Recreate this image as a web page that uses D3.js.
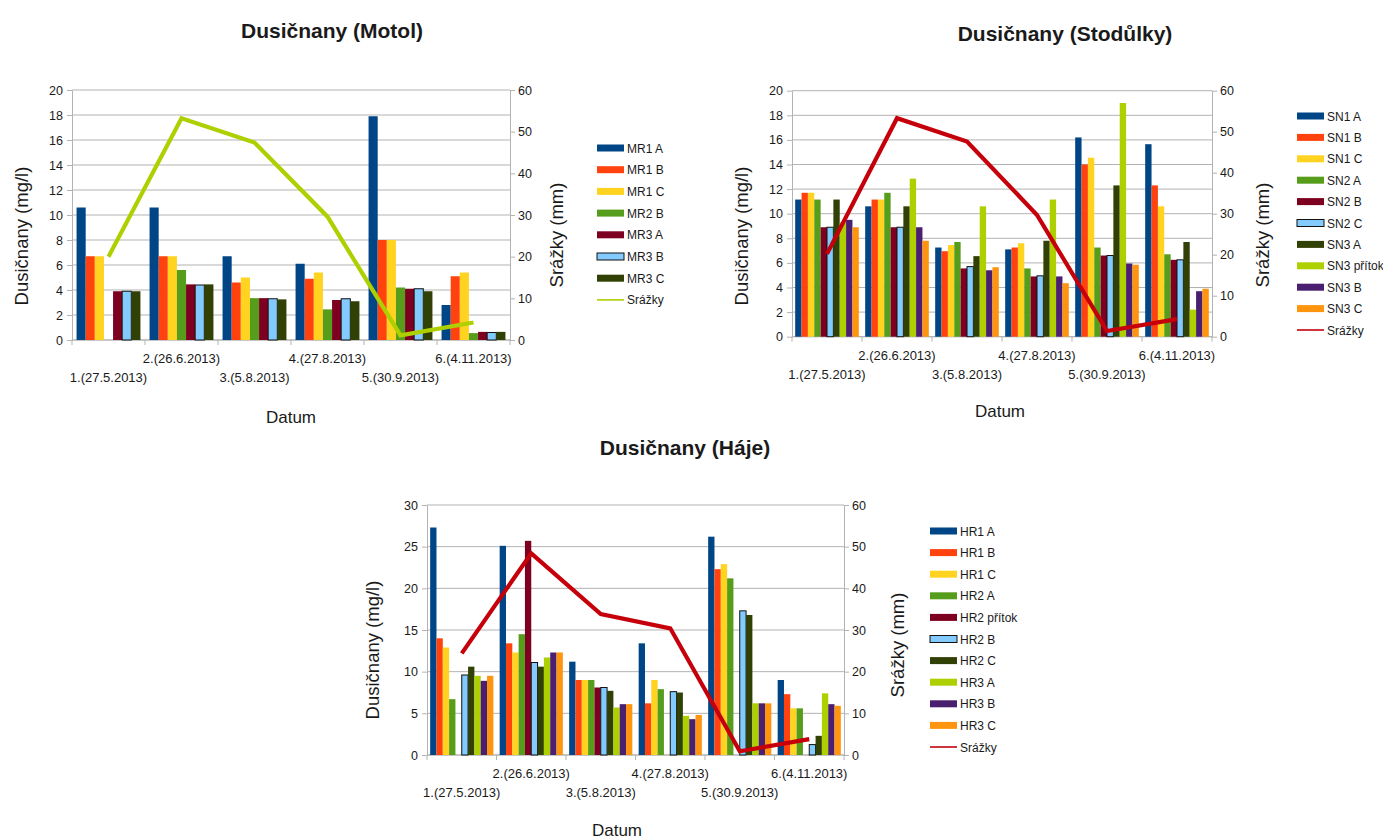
<!DOCTYPE html>
<html>
<head>
<meta charset="utf-8">
<script src="https://cdn.jsdelivr.net/npm/d3@7"></script>
<style>
  body { margin: 0; background: #fff; }
  text { font-family: "Liberation Sans", Arial, sans-serif; fill: #1a1a1a; }
</style>
</head>
<body>
<svg id="chart" width="1383" height="839"></svg>
<script>
// Sampling dates (x categories)
const categories = ["1.(27.5.2013)", "2.(26.6.2013)", "3.(5.8.2013)", "4.(27.8.2013)", "5.(30.9.2013)", "6.(4.11.2013)"];

// Nitrate concentrations (mg/l), Motol
const motolNames = ["MR1 A", "MR1 B", "MR1 C", "MR2 B", "MR3 A", "MR3 B", "MR3 C"];
const motolValues = [
  [10.6, 10.6, 6.7, 6.1, 17.9, 2.8],
  [6.7, 6.7, 4.6, 4.9, 8.0, 5.1],
  [6.7, 6.7, 5.0, 5.4, 8.0, 5.4],
  [null, 5.6, 3.35, 2.45, 4.2, 0.55],
  [3.9, 4.45, 3.35, 3.2, 4.1, 0.65],
  [3.9, 4.4, 3.3, 3.3, 4.1, 0.6],
  [3.9, 4.45, 3.25, 3.1, 3.9, 0.65]
];
const motolRain = [20.0, 53.2, 47.4, 29.6, 1.1, 4.2];

// Nitrate concentrations (mg/l), Stodůlky
const stodulkyNames = ["SN1 A", "SN1 B", "SN1 C", "SN2 A", "SN2 B", "SN2 C", "SN3 A", "SN3 přítok", "SN3 B", "SN3 C"];
const stodulkyValues = [
  [11.15, 10.6, 7.25, 7.1, 16.2, 15.65],
  [11.7, 11.15, 6.95, 7.25, 14.0, 12.3],
  [11.7, 11.15, 7.45, 7.6, 14.55, 10.6],
  [11.15, 11.7, 7.7, 5.55, 7.25, 6.7],
  [8.9, 8.9, 5.55, 4.9, 6.6, 6.25],
  [8.9, 8.9, 5.7, 4.95, 6.6, 6.25],
  [11.15, 10.6, 6.55, 7.8, 12.3, 7.7],
  [9.3, 12.85, 10.6, 11.15, 19.0, 2.2],
  [9.5, 8.9, 5.4, 4.9, 5.95, 3.7],
  [8.9, 7.8, 5.65, 4.35, 5.85, 3.9]
];
const stodulkyRain = [20.2, 53.3, 47.6, 29.7, 1.4, 4.3];

// Nitrate concentrations (mg/l), Háje
const hajeNames = ["HR1 A", "HR1 B", "HR1 C", "HR2 A", "HR2 přítok", "HR2 B", "HR2 C", "HR3 A", "HR3 B", "HR3 C"];
const hajeValues = [
  [27.3, 25.1, 11.2, 13.4, 26.2, 9.0],
  [14.0, 13.4, 9.0, 6.2, 22.3, 7.3],
  [12.9, 12.3, 9.0, 9.0, 22.9, 5.6],
  [6.7, 14.5, 9.0, 7.9, 21.2, 5.6],
  [null, 25.7, 8.1, null, null, null],
  [9.6, 11.1, 8.1, 7.6, 17.3, 1.25],
  [10.6, 10.6, 7.7, 7.5, 16.8, 2.3],
  [9.5, 11.7, 5.7, 4.7, 6.2, 7.4],
  [8.9, 12.3, 6.1, 4.3, 6.2, 6.1],
  [9.5, 12.3, 6.1, 4.8, 6.2, 5.9]
];
const hajeRain = [24.4, 48.4, 33.8, 30.4, 0.9, 3.8];

// Axis ticks
const ticksNitrate20 = [0, 2, 4, 6, 8, 10, 12, 14, 16, 18, 20];
const ticksNitrate30 = [0, 5, 10, 15, 20, 25, 30];
const ticksRain = [0, 10, 20, 30, 40, 50, 60];

// Bar fills per series slot
const palette7 = ["#004586", "#ff420e", "#ffd320", "#579d1c", "#7e0021", "#83caff", "#314004"];
const palette10 = ["#004586", "#ff420e", "#ffd320", "#579d1c", "#7e0021", "#83caff", "#314004", "#aecf00", "#4b1f6f", "#ff950e"];

const svg = d3.select("#chart");
const gridColor = "#b3b3b3";

function drawPanel(cfg) {
  const g = svg.append("g");
  const x0 = d3.scaleBand().domain(d3.range(categories.length)).range([cfg.left, cfg.right]);
  const x1 = d3.scaleBand().domain(d3.range(cfg.names.length))
    .range([0, x0.bandwidth()]).paddingInner(0).paddingOuter(0.5);
  const y = d3.scaleLinear().domain([0, cfg.yMax]).range([cfg.bottom, cfg.top]);
  const yR = d3.scaleLinear().domain([0, 60]).range([cfg.bottom, cfg.top]);

  // horizontal gridlines
  g.append("g").selectAll("line").data(cfg.yTicks).join("line")
    .attr("x1", cfg.left).attr("x2", cfg.right)
    .attr("y1", d => y(d)).attr("y2", d => y(d))
    .attr("stroke", gridColor).attr("stroke-width", 1);

  // left axis
  const axL = g.append("g").attr("transform", `translate(${cfg.left},0)`)
    .call(d3.axisLeft(y).tickValues(cfg.yTicks).tickSize(5).tickSizeOuter(0).tickPadding(4));
  // right axis
  const axR = g.append("g").attr("transform", `translate(${cfg.right},0)`)
    .call(d3.axisRight(yR).tickValues(ticksRain).tickSize(5).tickSizeOuter(0).tickPadding(3));
  [axL, axR].forEach(a => {
    a.selectAll("path, line").attr("stroke", gridColor);
    a.selectAll("text").style("font-size", "12.5px").attr("fill", "#222")
      .style("font-family", '"Liberation Sans", Arial, sans-serif');
  });

  // category axis
  g.append("line").attr("x1", cfg.left).attr("x2", cfg.right)
    .attr("y1", cfg.bottom).attr("y2", cfg.bottom).attr("stroke", gridColor);
  g.append("g").selectAll("line").data(d3.range(categories.length + 1)).join("line")
    .attr("x1", i => i < categories.length ? x0(i) : cfg.right)
    .attr("x2", i => i < categories.length ? x0(i) : cfg.right)
    .attr("y1", cfg.bottom).attr("y2", cfg.bottom + 5).attr("stroke", gridColor);
  g.append("g").selectAll("text").data(categories).join("text")
    .attr("x", (d, i) => x0(i) + x0.bandwidth() / 2)
    .attr("y", (d, i) => cfg.bottom + (i % 2 === 1 ? cfg.labelDy1 : cfg.labelDy2))
    .attr("text-anchor", "middle").style("font-size", "13px").text(d => d);

  // bars
  cfg.values.forEach((vals, s) => {
    g.append("g").selectAll("rect").data(vals.map((v, i) => ({ v, i })).filter(d => d.v != null)).join("rect")
      .attr("x", d => x0(d.i) + x1(s))
      .attr("y", d => y(d.v))
      .attr("width", x1.bandwidth())
      .attr("height", d => cfg.bottom - y(d.v))
      .attr("fill", cfg.palette[s])
      .attr("stroke", cfg.palette[s] === "#83caff" ? "#111" : "none")
      .attr("stroke-width", 1);
  });

  // rainfall line
  const line = d3.line().x((d, i) => x0(i) + x0.bandwidth() / 2).y(d => yR(d));
  g.append("path").datum(cfg.rain).attr("d", line)
    .attr("fill", "none").attr("stroke", cfg.lineColor).attr("stroke-width", 4.2)
    .attr("stroke-linejoin", "miter");

  // titles
  g.append("text").attr("x", cfg.titleX).attr("y", cfg.titleY).attr("text-anchor", "middle")
    .style("font-size", "21px").style("font-weight", "bold").text(cfg.title);
  g.append("text").attr("x", cfg.xTitleX).attr("y", cfg.xTitleY).attr("text-anchor", "middle")
    .style("font-size", "17px").text("Datum");
  g.append("text").attr("transform", `translate(${cfg.yTitleX},${cfg.yTitleY}) rotate(-90)`)
    .attr("text-anchor", "middle").attr("dominant-baseline", "central")
    .style("font-size", "18.5px").text("Dusičnany (mg/l)");
  g.append("text").attr("transform", `translate(${cfg.rTitleX},${cfg.rTitleY}) rotate(-90)`)
    .attr("text-anchor", "middle").attr("dominant-baseline", "central")
    .style("font-size", "18.5px").text("Srážky (mm)");

  // legend
  const items = cfg.names.map((n, i) => ({ n, c: cfg.palette[i], type: "bar" }))
    .concat([{ n: "Srážky", c: cfg.lineColor, type: "line" }]);
  const lg = g.append("g");
  items.forEach((it, i) => {
    const ly = cfg.legendY + i * cfg.legendStep;
    if (it.type === "bar") {
      lg.append("rect").attr("x", cfg.legendX).attr("y", ly - 3.5).attr("width", 27).attr("height", 7)
        .attr("fill", it.c).attr("stroke", it.c === "#83caff" ? "#111" : "none");
    } else {
      lg.append("line").attr("x1", cfg.legendX).attr("x2", cfg.legendX + 27)
        .attr("y1", ly).attr("y2", ly).attr("stroke", it.c).attr("stroke-width", 1.6);
    }
    lg.append("text").attr("x", cfg.legendX + 30).attr("y", ly + 4.5)
      .style("font-size", "12px").text(it.n);
  });
}

drawPanel({
  title: "Dusičnany (Motol)", titleX: 332, titleY: 38,
  left: 72, right: 510, top: 90, bottom: 340,
  yMax: 20, yTicks: ticksNitrate20,
  names: motolNames, values: motolValues, rain: motolRain,
  palette: palette7, lineColor: "#aecf00",
  labelDy1: 23, labelDy2: 42,
  xTitleX: 291, xTitleY: 423,
  yTitleX: 21, yTitleY: 236, rTitleX: 556, rTitleY: 235,
  legendX: 597, legendY: 148, legendStep: 21.7
});

drawPanel({
  title: "Dusičnany (Stodůlky)", titleX: 1065, titleY: 41,
  left: 792, right: 1212, top: 90.7, bottom: 336.7,
  yMax: 20, yTicks: ticksNitrate20,
  names: stodulkyNames, values: stodulkyValues, rain: stodulkyRain,
  palette: palette10, lineColor: "#c5000b",
  labelDy1: 23, labelDy2: 42,
  xTitleX: 1000, xTitleY: 417,
  yTitleX: 741, yTitleY: 236, rTitleX: 1262, rTitleY: 235,
  legendX: 1297, legendY: 116, legendStep: 21.4
});

drawPanel({
  title: "Dusičnany (Háje)", titleX: 685, titleY: 455,
  left: 427, right: 844, top: 505, bottom: 755,
  yMax: 30, yTicks: ticksNitrate30,
  names: hajeNames, values: hajeValues, rain: hajeRain,
  palette: palette10, lineColor: "#c5000b",
  labelDy1: 23, labelDy2: 42,
  xTitleX: 617, xTitleY: 836,
  yTitleX: 372, yTitleY: 650, rTitleX: 897, rTitleY: 645,
  legendX: 930, legendY: 531, legendStep: 21.6
});
</script>
</body>
</html>
